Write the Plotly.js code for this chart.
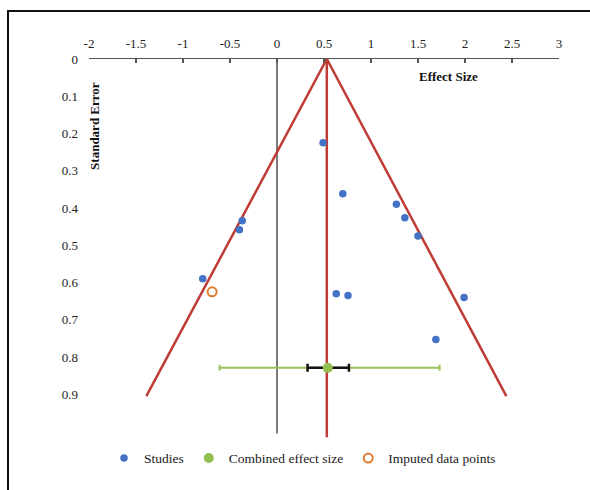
<!DOCTYPE html>
<html>
<head>
<meta charset="utf-8">
<script src="https://cdn.plot.ly/plotly-3.0.1.min.js"></script>
<style>
  html, body { margin: 0; padding: 0; background: #fff; }
  #wrap { position: relative; width: 590px; height: 490px; overflow: hidden; }
  #chart { position: absolute; left: 0; top: 0; width: 590px; height: 490px; }
  #frame { position: absolute; left: 7px; top: 10px; width: 620px; height: 520px;
           border-left: 2px solid #111; border-top: 2px solid #111; pointer-events: none; }
</style>
</head>
<body>
<div id="wrap">
  <div id="chart"></div>
  <div id="frame"></div>
</div>
<script>
// Studies (effect size, standard error)
const studyES = [0.49, 0.70, -0.37, -0.40, -0.79, 0.63, 0.755, 1.27, 1.36, 1.50, 1.99, 1.69];
const studySE = [0.225, 0.362, 0.434, 0.458, 0.59, 0.63, 0.635, 0.39, 0.426, 0.475, 0.64, 0.753];

// Imputed data point
const imputedES = [-0.69];
const imputedSE = [0.625];

// Combined effect size with intervals
const combinedES = [0.54];
const combinedSE = [0.829];
const combinedWideMinus = [1.15];
const combinedWidePlus = [1.19];
const combinedNarrowMinus = [0.215];
const combinedNarrowPlus = [0.225];

// Funnel limits and reference lines
const funnelX = [-1.39, 0.53, 2.44];
const funnelY = [0.905, 0, 0.905];
const meanLineX = [0.53, 0.53];
const meanLineY = [0, 1.015];
const zeroLineX = [0, 0];
const zeroLineY = [0, 1.005];

// Tick labels
const xTicks = [-2, -1.5, -1, -0.5, 0, 0.5, 1, 1.5, 2, 2.5, 3];
const yTicks = [0, 0.1, 0.2, 0.3, 0.4, 0.5, 0.6, 0.7, 0.8, 0.9];

const serif = 'Liberation Serif, Times New Roman, serif';
const red = '#BF3B36';

const traces = [
  { x: zeroLineX, y: zeroLineY, mode: 'lines', line: { color: '#7a7a7a', width: 2 }, showlegend: false, hoverinfo: 'skip' },
  { x: funnelX, y: funnelY, mode: 'lines', line: { color: red, width: 2.5 }, showlegend: false, hoverinfo: 'skip' },
  { x: meanLineX, y: meanLineY, mode: 'lines', line: { color: red, width: 2.5 }, showlegend: false, hoverinfo: 'skip' },
  { x: studyES, y: studySE, mode: 'markers', name: 'Studies',
    marker: { color: '#4472C4', size: 7.5 } },
  { x: combinedES, y: combinedSE, mode: 'markers', showlegend: false, hoverinfo: 'skip',
    marker: { color: 'rgba(0,0,0,0)', size: 1 },
    error_x: { type: 'data', symmetric: false, array: combinedWidePlus, arrayminus: combinedWideMinus,
               color: '#9BC25A', thickness: 2, width: 3 } },
  { x: combinedES, y: combinedSE, mode: 'markers', showlegend: false, hoverinfo: 'skip',
    marker: { color: 'rgba(0,0,0,0)', size: 1 },
    error_x: { type: 'data', symmetric: false, array: combinedNarrowPlus, arrayminus: combinedNarrowMinus,
               color: '#111', thickness: 2.5, width: 4 } },
  { x: combinedES, y: combinedSE, mode: 'markers', name: 'Combined effect size',
    marker: { color: '#92C050', size: 10 } },
  { x: imputedES, y: imputedSE, mode: 'markers', name: 'Imputed data points',
    marker: { color: 'rgba(0,0,0,0)', size: 9, line: { color: '#E07B2F', width: 2 } } }
];

const layout = {
  width: 590, height: 490,
  paper_bgcolor: '#fff', plot_bgcolor: '#fff',
  margin: { l: 89, r: 31, t: 59, b: 50.5 },
  font: { family: serif, size: 13, color: '#222' },
  showlegend: true,
  legend: { orientation: 'h', x: (104 - 89) / 470, xanchor: 'left', y: -0.01, yanchor: 'top',
            font: { family: serif, size: 13.5, color: '#1a1a1a' }, traceorder: 'normal' },
  xaxis: {
    side: 'top', range: [-2, 3], tickvals: xTicks, ticktext: xTicks.map(String),
    showline: true, linecolor: '#555', linewidth: 1.5,
    ticks: 'inside', ticklen: 4, tickcolor: '#555', tickwidth: 1.5,
    showgrid: false, zeroline: false, ticklabelstandoff: 4,
    tickfont: { family: serif, size: 13, color: '#222' }
  },
  yaxis: {
    range: [1.02, 0], tickvals: yTicks, ticktext: yTicks.map(String),
    showline: false, ticks: '', showgrid: false, zeroline: false,
    ticklabelstandoff: 10,
    tickfont: { family: serif, size: 13, color: '#222' }
  },
  annotations: [
    { text: '<b>Effect Size</b>', xref: 'paper', yref: 'paper', x: (448 - 89) / 470, y: 1 - (77 - 59) / 380.5,
      showarrow: false, xanchor: 'center', yanchor: 'middle', font: { family: serif, size: 13, color: '#111' } },
    { text: '<b>Standard Error</b>', xref: 'paper', yref: 'paper', x: (95 - 89) / 470, y: 1 - (126 - 59) / 380.5,
      textangle: -90, showarrow: false, xanchor: 'center', yanchor: 'middle', font: { family: serif, size: 13, color: '#111' } }
  ]
};

Plotly.newPlot('chart', traces, layout, { displayModeBar: false, staticPlot: true });
</script>
</body>
</html>
